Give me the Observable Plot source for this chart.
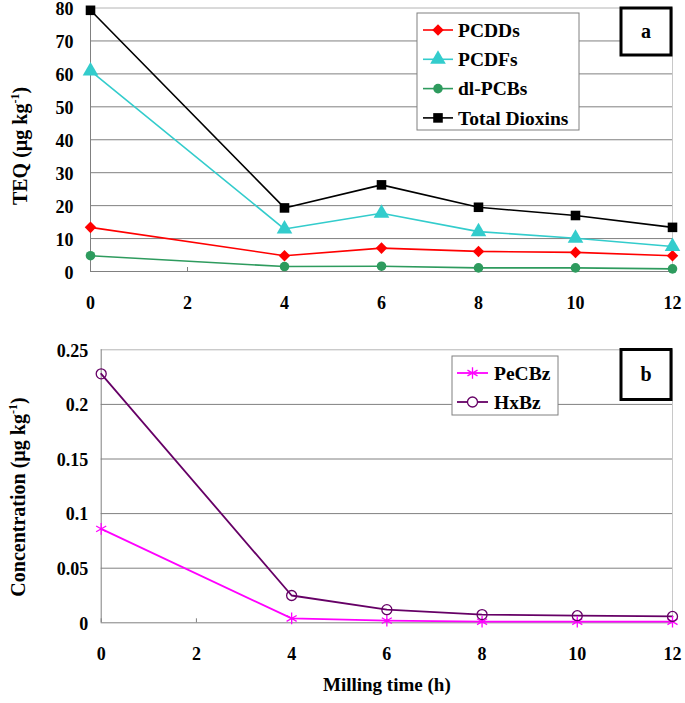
<!DOCTYPE html>
<html><head><meta charset="utf-8">
<script src="https://cdn.jsdelivr.net/npm/d3@7"></script>
<script src="https://cdn.jsdelivr.net/npm/@observablehq/plot@0.6"></script>
<style>
body{margin:0;background:#fff;}
#chart{width:685px;}
#chart svg{display:block;}
</style></head><body><div id="chart"></div>
<script>
// ---------- data ----------
const hours = [0, 4, 6, 8, 10, 12];
const xTicks = [0, 2, 4, 6, 8, 10, 12];

const seriesA = ["PCDDs", "PCDFs", "dl-PCBs", "Total Dioxins"];
const pcdds  = [13.4, 4.8, 7.1, 6.1, 5.8, 4.8];
const pcdfs  = [60.9, 12.9, 17.7, 12.1, 10.1, 7.6];
const dlpcbs = [4.8, 1.5, 1.6, 1.1, 1.1, 0.8];
const total  = [79.3, 19.3, 26.3, 19.5, 17.0, 13.4];
const yTicksA = [0, 10, 20, 30, 40, 50, 60, 70, 80];

const seriesB = ["PeCBz", "HxBz"];
const pecbz = [0.086, 0.004, 0.002, 0.001, 0.001, 0.001];
const hxbz  = [0.228, 0.025, 0.012, 0.0075, 0.0065, 0.0058];
const yTicksB = [0, 0.05, 0.1, 0.15, 0.2, 0.25];

const yTitleA = ["TEQ (µg kg", "-1", ")"];
const yTitleB = ["Concentration (µg kg", "-1", ")"];
const xTitle = "Milling time (h)";
const panelA = "a", panelB = "b";

// ---------- styles ----------
const font = "'Liberation Serif','Times New Roman',serif";
const stylesA = [
  {color: "#ff0000", symbol: "diamond2", r: 5.2},
  {color: "#33cccc", symbol: "triangle", r: 5.8},
  {color: "#2e9b5e", symbol: "circle", r: 4.8},
  {color: "#000000", symbol: "square", r: 5.4}
];
const stylesB = [
  {color: "#ff00ff", symbol: "asterisk", r: 5.5, open: true},
  {color: "#660066", symbol: "circle", r: 5, open: true}
];
const valuesA = [pcdds, pcdfs, dlpcbs, total];
const valuesB = [pecbz, hxbz];

function rows(series, values) {
  return series.flatMap((s, i) => values[i].map((v, j) => ({hour: hours[j], value: v, series: s})));
}
const rowsA = rows(seriesA, valuesA);
const rowsB = rows(seriesB, valuesB);

function seriesMarks(series, styles, data, lw) {
  const marks = [];
  series.forEach((s, i) => {
    const st = styles[i];
    const d = data.filter(r => r.series === s);
    marks.push(Plot.line(d, {x: "hour", y: "value", stroke: st.color, strokeWidth: lw}));
  });
  series.forEach((s, i) => {
    const st = styles[i];
    const d = data.filter(r => r.series === s);
    marks.push(Plot.dot(d, st.open
      ? {x: "hour", y: "value", symbol: () => st.symbol, r: st.r, stroke: st.color, fill: st.symbol === "circle" ? "none" : null, strokeWidth: 1.3}
      : {x: "hour", y: "value", symbol: () => st.symbol, r: st.r, fill: st.color, stroke: "none"}));
  });
  return marks;
}

const baseStyle = {fontFamily: font, fontSize: "18px", fontWeight: "bold", color: "#000", background: "#fff", overflow: "visible"};

// ---------- panel a ----------
const A = {w: 685, h: 320, top: 7.5, bottom: 49, left: 90, right: 13};
const plotA = Plot.plot({
  width: A.w, height: A.h,
  marginTop: A.top, marginBottom: A.bottom, marginLeft: A.left, marginRight: A.right,
  style: baseStyle,
  x: {domain: [0, 12]},
  y: {domain: [0, 80]},
  symbol: {domain: ["diamond2","triangle","circle","square","asterisk"], range: ["diamond2","triangle","circle","square","asterisk"]},
  marks: [
    Plot.ruleY(yTicksA.slice(1, -1), {stroke: "#808080"}),
    Plot.ruleY([80], {stroke: "#b4b4b4"}),
    Plot.ruleX([12], {stroke: "#c8c8c8"}),
    Plot.ruleX([0], {stroke: "#808080"}),
    Plot.ruleY([0], {stroke: "#808080"}),
    Plot.tickX(xTicks, {x: d => d, stroke: "#808080", insetTop: (A.h - A.top - A.bottom) - 4}),
    Plot.axisX({ticks: xTicks, tickSize: 0, tickPadding: 25, label: null, tickFormat: d => String(d)}),
    Plot.axisY({ticks: yTicksA, tickSize: 0, tickPadding: 17, dy: 1.5, label: null, tickFormat: d => String(d)}),
    ...seriesMarks(seriesA, stylesA, rowsA, 1.6)
  ]
});

// ---------- panel b ----------
const B = {w: 685, h: 383, top: 29.3, bottom: 80.7, left: 100.7, right: 13};
const plotB = Plot.plot({
  width: B.w, height: B.h,
  marginTop: B.top, marginBottom: B.bottom, marginLeft: B.left, marginRight: B.right,
  style: baseStyle,
  x: {domain: [0, 12]},
  y: {domain: [0, 0.25]},
  symbol: {domain: ["circle","asterisk"], range: ["circle","asterisk"]},
  marks: [
    Plot.ruleY(yTicksB.slice(1, -1), {stroke: "#808080"}),
    Plot.ruleY([0.25], {stroke: "#b4b4b4"}),
    Plot.ruleX([12], {stroke: "#c8c8c8"}),
    Plot.ruleX([0], {stroke: "#808080"}),
    Plot.ruleY([0], {stroke: "#808080"}),
    Plot.tickX(xTicks, {x: d => d, stroke: "#808080", insetTop: (B.h - B.top - B.bottom) - 4}),
    Plot.axisX({ticks: xTicks, tickSize: 0, tickPadding: 24, label: null, tickFormat: d => String(d)}),
    Plot.axisY({ticks: yTicksB, tickSize: 0, tickPadding: 13, dy: 1, label: null, tickFormat: d => String(+d.toFixed(2))}),
    Plot.text([xTitle], {frameAnchor: "bottom", dy: 68, fontSize: 19, fontWeight: "bold"}),
    ...seriesMarks(seriesB, stylesB, rowsB, 1.8)
  ]
});

// ---------- titles, legends, panel labels ----------
function yTitle(svg, parts, x, cy) {
  const t = svg.append("text")
    .attr("transform", `translate(${x},${cy}) rotate(-90)`)
    .attr("text-anchor", "middle")
    .attr("font-size", 20).attr("font-weight", "bold").attr("font-family", font).attr("fill", "#000");
  t.append("tspan").text(parts[0]);
  t.append("tspan").attr("dy", -8).attr("font-size", 12).text(parts[1]);
  t.append("tspan").attr("dy", 8).text(parts[2]);
}
function legend(svg, series, styles, box, rowY, rowH, lineX, textX, lw) {
  const g = svg.append("g");
  g.append("rect").attr("x", box.x).attr("y", box.y).attr("width", box.w).attr("height", box.h)
    .attr("fill", "#fff").attr("stroke", "#808080").attr("stroke-width", 1);
  series.forEach((s, i) => {
    const st = styles[i];
    const y = rowY + i * rowH;
    g.append("line").attr("x1", lineX[0]).attr("x2", lineX[1]).attr("y1", y).attr("y2", y)
      .attr("stroke", st.color).attr("stroke-width", lw);
    const typeMap = {diamond2: d3.symbolDiamond2, triangle: d3.symbolTriangle, circle: d3.symbolCircle, square: d3.symbolSquare, asterisk: d3.symbolAsterisk};
    const p = g.append("path")
      .attr("d", d3.symbol(typeMap[st.symbol], st.r * st.r * Math.PI)())
      .attr("transform", `translate(${(lineX[0] + lineX[1]) / 2},${y})`);
    if (st.open) p.attr("fill", st.symbol === "circle" ? "#fff" : "none").attr("stroke", st.color).attr("stroke-width", 1.3);
    else p.attr("fill", st.color);
    g.append("text").attr("x", textX).attr("y", y).attr("dy", "0.35em").attr("text-anchor", "start")
      .attr("font-size", 19.5).attr("font-weight", "bold").attr("font-family", font).attr("fill", "#000").text(s);
  });
}
function panelLabel(svg, label, box) {
  svg.append("rect").attr("x", box.x).attr("y", box.y).attr("width", box.w).attr("height", box.h)
    .attr("fill", "#fff").attr("stroke", "#000").attr("stroke-width", 3);
  svg.append("text").attr("x", box.x + box.w / 2).attr("y", box.y + box.h / 2).attr("dy", "0.3em")
    .attr("text-anchor", "middle").attr("font-size", 20).attr("font-weight", "bold").attr("font-family", font).text(label);
}

const svgA = d3.select(plotA);
yTitle(svgA, yTitleA, 27, 146);
legend(svgA, seriesA, stylesA, {x: 417, y: 13, w: 162, h: 117}, 30, 29.3, [423, 453], 458, 1.6);
panelLabel(svgA, panelA, {x: 621, y: 8, w: 50, h: 47});

const svgB = d3.select(plotB);
yTitle(svgB, yTitleB, 25, 177);
legend(svgB, seriesB, stylesB, {x: 452, y: 36, w: 106, h: 59}, 53, 29, [457, 488], 494, 1.8);
panelLabel(svgB, panelB, {x: 621, y: 29.5, w: 50, h: 50});

document.getElementById("chart").append(plotA, plotB);
</script></body></html>
